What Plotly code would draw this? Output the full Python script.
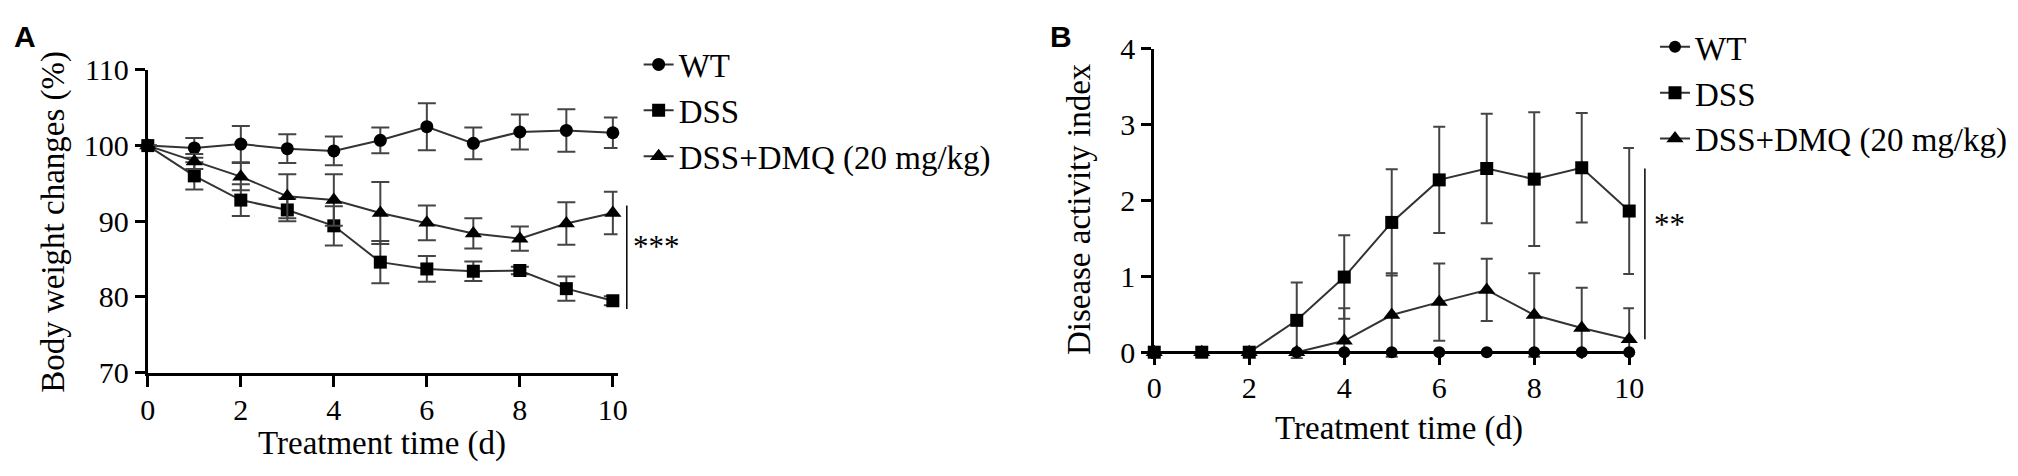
import plotly.graph_objects as go

W, H = 2018, 476

# ---------------- data ----------------
days = [0, 1, 2, 3, 4, 5, 6, 7, 8, 9, 10]
x_ticks = [0, 2, 4, 6, 8, 10]
series_names = ["WT", "DSS", "DSS+DMQ (20 mg/kg)"]

# Panel A: body weight changes (%)
wt_A = [100, 99.7, 100.2, 99.6, 99.3, 100.7, 102.5, 100.3, 101.8, 102.0, 101.7]
wt_A_err = [0, 1.3, 2.4, 1.9, 1.9, 1.7, 3.1, 2.1, 2.3, 2.8, 2.0]
dss_A = [100, 96.0, 92.8, 91.5, 89.4, 84.6, 83.7, 83.4, 83.5, 81.1, 79.5]
dss_A_err = [0, 1.8, 2.1, 1.5, 2.6, 2.8, 1.7, 1.3, 0.5, 1.6, 0.6]
dmq_A = [100, 97.9, 95.9, 93.3, 92.8, 91.1, 89.8, 88.4, 87.7, 89.7, 91.1]
dmq_A_err = [0, 1.0, 1.8, 2.9, 3.4, 4.1, 2.3, 2.0, 1.6, 2.8, 2.8]
yticks_A = [70, 80, 90, 100, 110]

# Panel B: disease activity index
wt_B = [0, 0, 0, 0, 0, 0, 0, 0, 0, 0, 0]
wt_B_err = [0, 0, 0, 0, 0, 0, 0, 0, 0, 0, 0]
dss_B = [0, 0, 0, 0.42, 0.99, 1.71, 2.27, 2.42, 2.28, 2.43, 1.86]
dss_B_err = [0, 0, 0, 0.5, 0.55, 0.7, 0.7, 0.72, 0.88, 0.72, 0.83]
dmq_B = [0, 0, 0, 0, 0.15, 0.49, 0.66, 0.82, 0.49, 0.32, 0.17]
dmq_B_err = [0, 0, 0, 0, 0.43, 0.55, 0.51, 0.41, 0.55, 0.53, 0.41]
yticks_B = [0, 1, 2, 3, 4]

# significance brackets (x position in days, y from, y to, label)
sig_A = dict(x=10.3, y0=78.4, y1=92.1, label="***")
sig_B = dict(x=10.33, y0=0.17, y1=2.42, label="**")

# ---------------- helpers ----------------
SERIF = "Liberation Serif, Times New Roman, serif"
SANS = "Liberation Sans, Arial, sans-serif"


def px(x):
    return x / W


def py(y):
    return 1 - y / H


fig = go.Figure()


def add(y, err, name, symbol, xa, ya, legend, size, capw, show_err=True):
    fig.add_trace(go.Scatter(
        x=days, y=y, mode="lines+markers", name=name,
        xaxis=xa, yaxis=ya, legend=legend, legendgroup=legend + name,
        line=dict(color="#333333", width=2),
        marker=dict(symbol=symbol, size=size, color="black",
                    line=dict(width=0)),
        error_y=dict(type="data", array=err, visible=show_err,
                     color="#444444", thickness=2, width=capw),
        cliponaxis=False,
    ))


add(wt_A, wt_A_err, series_names[0], "circle", "x", "y", "legend", 13, 9)
add(dss_A, dss_A_err, series_names[1], "square", "x", "y", "legend", 13, 9)
add(dmq_A, dmq_A_err, series_names[2], "triangle-up", "x", "y", "legend", 15, 9)

add(dss_B, dss_B_err, series_names[1], "square", "x2", "y2", "legend2", 13, 6)
add(dmq_B, dmq_B_err, series_names[2], "triangle-up", "x2", "y2", "legend2", 15, 6)
add(wt_B, wt_B_err, series_names[0], "circle", "x2", "y2", "legend2", 12, 6, show_err=False)

axis_common = dict(
    showline=True, linecolor="black", linewidth=3, showgrid=False,
    zeroline=False, ticks="outside", tickcolor="black", tickwidth=2.5,
    tickfont=dict(family=SERIF, size=30, color="black"),
)

# Panel A geometry (pixels)
A_x0, A_x10 = 142, 611
A_ytop, A_ybot = 57, 383
a_per = (A_x10 - A_x0) / 10
A_right = A_x0 + a_per * 10.1

# Panel B geometry (pixels)
B_x0, B_x10 = 1157, 1636
b_per = (B_x10 - B_x0) / 10
B_right = B_x0 + b_per * 10.1
B_ytop, B_zero = 34, 361
b_unit = (B_zero - B_ytop) / 4
B_ymin = -0.09
B_ybot = B_zero - B_ymin * b_unit

fig.update_layout(
    width=W, height=H,
    margin=dict(l=0, r=0, t=0, b=0),
    paper_bgcolor="white", plot_bgcolor="white",
    font=dict(family=SERIF, color="black"),
    xaxis=dict(domain=[px(A_x0), px(A_right)], range=[0, 10.1],
               tickvals=x_ticks, ticklen=11, anchor="y",
               ticklabelstandoff=-3, **axis_common),
    yaxis=dict(domain=[py(A_ybot), py(A_ytop)], range=[70, 110],
               tickvals=yticks_A, ticklen=10, anchor="x", **axis_common),
    xaxis2=dict(domain=[px(B_x0), px(B_right)], range=[0, 10.1],
                tickvals=x_ticks, ticklen=11, anchor="free",
                position=py(B_zero), ticklabelstandoff=-3, **axis_common),
    yaxis2=dict(domain=[py(B_ybot), py(B_ytop)], range=[B_ymin, 4],
                tickvals=yticks_B, ticklen=10, anchor="x2", **axis_common),
    legend=dict(x=px(637), y=py(21), xanchor="left", yanchor="top",
                font=dict(family=SERIF, size=33, color="black"),
                bgcolor="rgba(0,0,0,0)", itemwidth=30,
                traceorder="grouped", tracegroupgap=0),
    legend2=dict(x=px(1662), y=py(2), xanchor="left", yanchor="top",
                 font=dict(family=SERIF, size=33, color="black"),
                 bgcolor="rgba(0,0,0,0)", itemwidth=30,
                 traceorder="grouped", tracegroupgap=0),
)

# order legend2 entries WT, DSS, DSS+DMQ
fig.data[5].legendrank = 1
fig.data[3].legendrank = 2
fig.data[4].legendrank = 3

annots = [
    dict(text="<b>A</b>", x=px(18), y=py(21), font=dict(family=SANS, size=30)),
    dict(text="<b>B</b>", x=px(1063), y=py(21), font=dict(family=SANS, size=30)),
    dict(text="Treatment time (d)", x=px(378), y=py(459), font=dict(size=33)),
    dict(text="Body weight changes (%)", x=px(47), y=py(221), textangle=-90,
         font=dict(size=33)),
    dict(text="Treatment time (d)", x=px(1404), y=py(443), font=dict(size=33)),
    dict(text="Disease activity index", x=px(1081), y=py(207), textangle=-90,
         font=dict(size=33)),
    dict(text=sig_A["label"], x=px(655), y=py(247), font=dict(size=31)),
    dict(text=sig_B["label"], x=px(1677), y=py(223), font=dict(size=31)),
]
for a in annots:
    a.setdefault("font", {})
    a["font"].setdefault("family", SERIF)
    a["font"]["color"] = "black"
    fig.add_annotation(xref="paper", yref="paper", showarrow=False,
                       xanchor="center", yanchor="middle", **a)


# significance bars: convert data coordinates to paper coordinates
def a_paper(xv, yv):
    return (px(A_x0 + a_per * xv),
            py(A_ybot - (yv - 70) / 40 * (A_ybot - A_ytop)))


def b_paper(xv, yv):
    return (px(B_x0 + b_per * xv), py(B_zero - yv * b_unit))


for sig, conv in ((sig_A, a_paper), (sig_B, b_paper)):
    xs, ys0 = conv(sig["x"], sig["y0"])
    _, ys1 = conv(sig["x"], sig["y1"])
    fig.add_shape(type="line", xref="paper", yref="paper", x0=xs, x1=xs,
                  y0=ys0, y1=ys1, line=dict(color="black", width=1.5))

fig.write_html(
    "out.html",
    config={"displayModeBar": False},
    post_script="document.body.style.margin='0';document.body.style.overflow='hidden';",
)
